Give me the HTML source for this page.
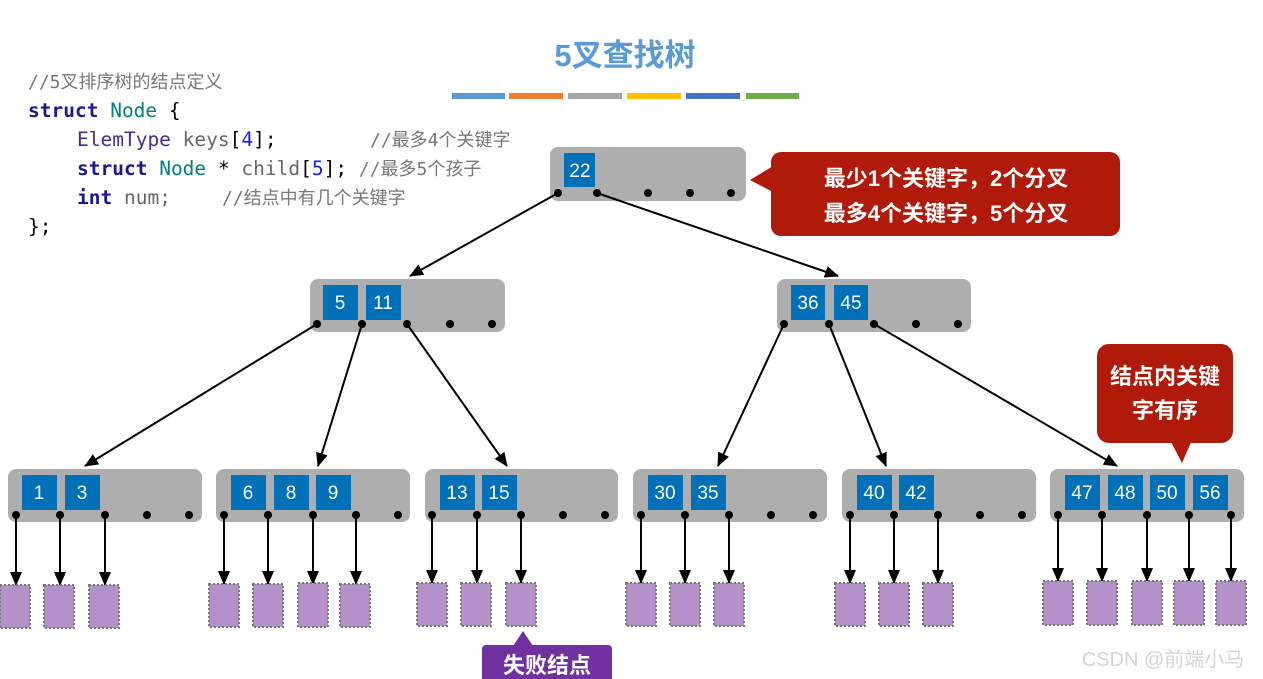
<!DOCTYPE html>
<html><head><meta charset="utf-8"><style>
body{margin:0;background:#fff;width:1263px;height:679px;overflow:hidden}
svg{display:block}
.code{font-family:"DejaVu Sans Mono","Noto Sans CJK SC",monospace;font-size:19.5px}
.k{font-family:"Liberation Sans",sans-serif;font-size:19px;fill:#fff;text-anchor:middle}
.cjk{font-family:"Liberation Sans","Noto Sans CJK SC",sans-serif}
</style></head><body>
<svg width="1263" height="679" viewBox="0 0 1263 679">
<defs>
<marker id="b" markerWidth="14" markerHeight="14" refX="13" refY="7" orient="auto" markerUnits="userSpaceOnUse" viewBox="0 0 14 14"><path d="M0,1L14,7L0,13z" fill="#000"/></marker></defs>
<text x="625" y="66" class="cjk" font-size="31" font-weight="bold" fill="#5b9bd5" text-anchor="middle">5叉查找树</text>
<rect x="452" y="93" width="53" height="6" fill="#5b9bd5"/><rect x="509" y="93" width="54" height="6" fill="#ed7d31"/><rect x="568" y="93" width="54" height="6" fill="#a5a5a5"/><rect x="627" y="93" width="54" height="6" fill="#ffc000"/><rect x="686" y="93" width="54" height="6" fill="#4472c4"/><rect x="746" y="93" width="53" height="6" fill="#70ad47"/>
<g class="code">
<text x="28" y="88" fill="#777" font-size="18">//5叉排序树的结点定义</text>
<text x="28" y="117"><tspan fill="#1a1a8c" font-weight="bold">struct</tspan> <tspan fill="#008080">Node</tspan> <tspan fill="#000">{</tspan></text>
<text x="77" y="146"><tspan fill="#4b2a8a">ElemType</tspan> <tspan fill="#666">keys</tspan><tspan fill="#000">[</tspan><tspan fill="#1a1aff">4</tspan><tspan fill="#000">];</tspan></text><text x="370" y="146" fill="#777" font-size="18">//最多4个关键字</text>
<text x="77" y="175"><tspan fill="#1a1a8c" font-weight="bold">struct</tspan> <tspan fill="#008080">Node</tspan> <tspan fill="#000">*</tspan> <tspan fill="#666">child</tspan><tspan fill="#000">[</tspan><tspan fill="#1a1aff">5</tspan><tspan fill="#000">];</tspan> <tspan fill="#777" font-size="18">//最多5个孩子</tspan></text>
<text x="77" y="204"><tspan fill="#1a1a8c" font-weight="bold">int</tspan> <tspan fill="#666">num;</tspan></text><text x="222" y="204" fill="#777" font-size="18">//结点中有几个关键字</text>
<text x="28" y="233" fill="#000">};</text>
</g>
<g fill="#aeaeae">
<rect x="550" y="147" width="196" height="54" rx="8"/>
<rect x="310" y="279" width="195" height="53" rx="8"/><rect x="777" y="279" width="194" height="53" rx="8"/>
<rect x="8" y="469" width="194" height="53" rx="8"/><rect x="216" y="469" width="194" height="53" rx="8"/><rect x="425" y="469" width="193" height="53" rx="8"/><rect x="633" y="469" width="194" height="53" rx="8"/><rect x="842" y="469" width="194" height="53" rx="8"/><rect x="1050" y="469" width="194" height="53" rx="8"/>
</g>
<g fill="#0070b8">
<rect x="564" y="153" width="31" height="34"/>
<rect x="323" y="285" width="35" height="35"/><rect x="366" y="285" width="35" height="35"/><rect x="791" y="285" width="34" height="35"/><rect x="834" y="285" width="34" height="35"/>
<rect x="22" y="475" width="35" height="35"/><rect x="65" y="475" width="35" height="35"/>
<rect x="231" y="475" width="35" height="35"/><rect x="274" y="475" width="35" height="35"/><rect x="316" y="475" width="35" height="35"/>
<rect x="440" y="475" width="35" height="35"/><rect x="482" y="475" width="35" height="35"/>
<rect x="648" y="475" width="35" height="35"/><rect x="691" y="475" width="35" height="35"/>
<rect x="857" y="475" width="35" height="35"/><rect x="899" y="475" width="35" height="35"/>
<rect x="1065" y="475" width="35" height="35"/><rect x="1108" y="475" width="35" height="35"/><rect x="1150" y="475" width="35" height="35"/><rect x="1193" y="475" width="35" height="35"/>
</g>
<g class="k">
<text x="580" y="177">22</text>
<text x="340" y="309">5</text><text x="383" y="309">11</text><text x="808" y="309">36</text><text x="851" y="309">45</text>
<text x="39" y="499">1</text><text x="82" y="499">3</text>
<text x="248" y="499">6</text><text x="291" y="499">8</text><text x="333" y="499">9</text>
<text x="457" y="499">13</text><text x="499" y="499">15</text>
<text x="665" y="499">30</text><text x="708" y="499">35</text>
<text x="874" y="499">40</text><text x="916" y="499">42</text>
<text x="1082" y="499">47</text><text x="1125" y="499">48</text><text x="1167" y="499">50</text><text x="1210" y="499">56</text>
</g>
<g fill="#000">
<circle cx="558" cy="193" r="4"/><circle cx="597" cy="193" r="4"/><circle cx="648" cy="193" r="4"/><circle cx="690" cy="193" r="4"/><circle cx="731" cy="193" r="4"/>
<circle cx="317" cy="324" r="4"/><circle cx="362" cy="324" r="4"/><circle cx="407" cy="324" r="4"/><circle cx="450" cy="324" r="4"/><circle cx="492" cy="324" r="4"/>
<circle cx="784" cy="324" r="4"/><circle cx="829" cy="324" r="4"/><circle cx="874" cy="324" r="4"/><circle cx="916" cy="324" r="4"/><circle cx="958" cy="324" r="4"/>
<circle cx="16" cy="515" r="4"/><circle cx="60" cy="515" r="4"/><circle cx="105" cy="515" r="4"/><circle cx="147" cy="515" r="4"/><circle cx="189" cy="515" r="4"/>
<circle cx="224" cy="515" r="4"/><circle cx="268" cy="515" r="4"/><circle cx="313" cy="515" r="4"/><circle cx="356" cy="515" r="4"/><circle cx="398" cy="515" r="4"/>
<circle cx="432" cy="515" r="4"/><circle cx="477" cy="515" r="4"/><circle cx="521" cy="515" r="4"/><circle cx="563" cy="515" r="4"/><circle cx="605" cy="515" r="4"/>
<circle cx="641" cy="515" r="4"/><circle cx="685" cy="515" r="4"/><circle cx="729" cy="515" r="4"/><circle cx="771" cy="515" r="4"/><circle cx="813" cy="515" r="4"/>
<circle cx="850" cy="515" r="4"/><circle cx="894" cy="515" r="4"/><circle cx="938" cy="515" r="4"/><circle cx="980" cy="515" r="4"/><circle cx="1022" cy="515" r="4"/>
<circle cx="1058" cy="515" r="4"/><circle cx="1102" cy="515" r="4"/><circle cx="1147" cy="515" r="4"/><circle cx="1189" cy="515" r="4"/><circle cx="1231" cy="515" r="4"/>
</g>
<g stroke="#000" stroke-width="2" fill="none" marker-end="url(#b)">
<line x1="558" y1="193" x2="410" y2="276"/><line x1="597" y1="193" x2="838" y2="276"/>
<line x1="317" y1="324" x2="85" y2="466"/><line x1="362" y1="324" x2="318" y2="466"/><line x1="407" y1="324" x2="507" y2="466"/>
<line x1="784" y1="324" x2="718" y2="466"/><line x1="829" y1="324" x2="886" y2="466"/><line x1="874" y1="324" x2="1117" y2="466"/>
</g>
<g stroke="#000" stroke-width="2" marker-end="url(#b)">
<line x1="16" y1="515" x2="16" y2="585"/><line x1="60" y1="515" x2="60" y2="585"/><line x1="105" y1="515" x2="105" y2="585"/>
<line x1="224" y1="515" x2="224" y2="584"/><line x1="268" y1="515" x2="268" y2="584"/><line x1="313" y1="515" x2="313" y2="584"/><line x1="356" y1="515" x2="356" y2="584"/>
<line x1="432" y1="515" x2="432" y2="583"/><line x1="477" y1="515" x2="477" y2="583"/><line x1="521" y1="515" x2="521" y2="583"/>
<line x1="641" y1="515" x2="641" y2="583"/><line x1="685" y1="515" x2="685" y2="583"/><line x1="729" y1="515" x2="729" y2="583"/>
<line x1="850" y1="515" x2="850" y2="583"/><line x1="894" y1="515" x2="894" y2="583"/><line x1="938" y1="515" x2="938" y2="583"/>
<line x1="1058" y1="515" x2="1058" y2="581"/><line x1="1102" y1="515" x2="1102" y2="581"/><line x1="1147" y1="515" x2="1147" y2="581"/><line x1="1189" y1="515" x2="1189" y2="581"/><line x1="1231" y1="515" x2="1231" y2="581"/>
</g>
<g fill="#b491c8" stroke="#777" stroke-width="2" stroke-dasharray="2,2">
<rect x="0" y="585" width="30" height="43"/><rect x="44" y="585" width="30" height="43"/><rect x="89" y="585" width="30" height="43"/>
<rect x="209" y="584" width="30" height="43"/><rect x="253" y="584" width="30" height="43"/><rect x="298" y="583" width="30" height="44"/><rect x="340" y="584" width="30" height="43"/>
<rect x="417" y="583" width="30" height="43"/><rect x="461" y="583" width="30" height="43"/><rect x="506" y="583" width="30" height="43"/>
<rect x="626" y="583" width="30" height="43"/><rect x="670" y="583" width="30" height="43"/><rect x="714" y="583" width="30" height="43"/>
<rect x="835" y="583" width="30" height="43"/><rect x="879" y="583" width="30" height="43"/><rect x="923" y="583" width="30" height="43"/>
<rect x="1043" y="581" width="30" height="44"/><rect x="1087" y="581" width="30" height="44"/><rect x="1132" y="581" width="30" height="44"/><rect x="1174" y="581" width="30" height="44"/><rect x="1216" y="581" width="30" height="44"/>
</g>
<g fill="#b01a0a">
<rect x="771" y="152" width="349" height="84" rx="10"/><path d="M773,166L750,180L773,192z"/>
<rect x="1097" y="344" width="136" height="99" rx="12"/><path d="M1170,440L1182,463L1192,440z"/>
</g>
<g class="cjk" fill="#fff" font-size="22" font-weight="bold" text-anchor="middle">
<text x="946" y="186">最少1个关键字，2个分叉</text>
<text x="946" y="221">最多4个关键字，5个分叉</text>
<text x="1165" y="384">结点内关键</text>
<text x="1165" y="418">字有序</text>
</g>
<rect x="482" y="645" width="130" height="40" rx="4" fill="#7030a0"/><path d="M513,646L523,631L533,646z" fill="#7030a0"/>
<text x="547" y="673" class="cjk" fill="#fff" font-size="22" font-weight="bold" text-anchor="middle">失败结点</text>
<text x="1163" y="666" class="cjk" fill="#d4d4d4" font-size="20" text-anchor="middle">CSDN @前端小马</text>
</svg>
</body></html>
